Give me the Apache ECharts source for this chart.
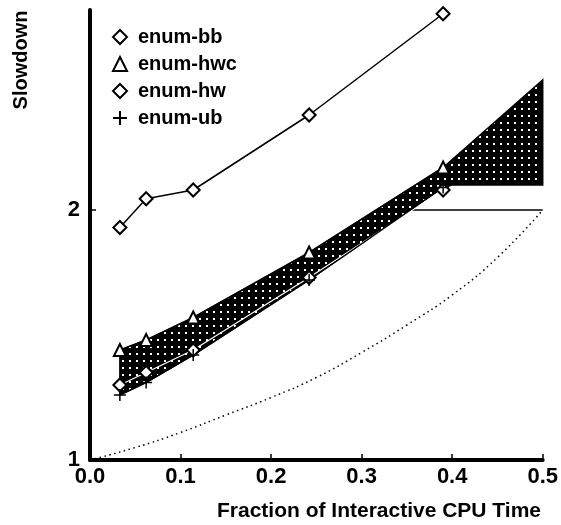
<!DOCTYPE html>
<html>
<head>
<meta charset="utf-8">
<script src="https://cdn.jsdelivr.net/npm/echarts@6/dist/echarts.min.js"></script>
<style>
  html, body { margin: 0; padding: 0; background: #fff; }
  #chart { width: 561px; height: 525px; }
</style>
</head>
<body>
<div id="chart"></div>
<script>
// Fraction of interactive CPU time at which each configuration was measured
const fractions = [0.033, 0.062, 0.114, 0.242, 0.39];

// Measured slowdown per configuration
const enumBB  = [1.93, 2.045, 2.08, 2.38, 2.785];
const enumHWC = [1.44, 1.48, 1.57, 1.83, 2.17];
const enumHW  = [1.30, 1.35, 1.44, 1.73, 2.08];
const enumUB  = [1.26, 1.31, 1.42, 1.72, 2.09];

// Projected range beyond the last measurement
const bandUpperExt = [[0.5, 2.52]];
const bandLowerExt = [[0.40, 2.10], [0.5, 2.10]];

// Slowdown limit of 2
const limitLine = [[0.35, 2.0], [0.5, 2.0]];

// Ideal slowdown curve
const idealX = [0.0, 0.05, 0.1, 0.15, 0.2, 0.25, 0.3, 0.35, 0.4, 0.45, 0.5];
const idealY = [1.0, 1.05, 1.11, 1.18, 1.25, 1.33, 1.43, 1.54, 1.66, 1.81, 2.0];

// Axis ticks
const xTickValues = [0, 0.1, 0.2, 0.3, 0.4, 0.5];
const yTickValues = [1, 2];

const pair = (xs, ys) => xs.map((x, i) => [x, ys[i]]);

// Stipple pattern for the shaded range: black with white dots
const tile = document.createElement('canvas');
tile.width = 7; tile.height = 7;
(function () {
  const c = tile.getContext('2d');
  c.fillStyle = '#000';
  c.fillRect(0, 0, 7, 7);
  c.fillStyle = '#fff';
  c.fillRect(3, 3, 2, 2);
})();

const bandUpper = pair(fractions, enumHWC).concat(bandUpperExt);
const bandLower = pair(fractions, enumUB).concat(bandLowerExt);

const plusPath = 'path://M0,5L10,5M5,0L5,10';
const fontFam = '"Liberation Sans", Arial, Helvetica, sans-serif';

const chart = echarts.init(document.getElementById('chart'), null, { renderer: 'canvas' });

chart.setOption({
  animation: false,
  backgroundColor: '#fff',
  grid: { left: 90, right: 18, top: 10, bottom: 65, containLabel: false },
  xAxis: {
    type: 'value',
    min: 0, max: 0.5, interval: 0.1,
    axisLine: { lineStyle: { color: '#000', width: 4 } },
    axisTick: { inside: true, length: 6, lineStyle: { color: '#000', width: 1.5 }, customValues: xTickValues },
    axisLabel: {
      color: '#000', fontSize: 22, fontWeight: 'bold', fontFamily: fontFam, margin: 6,
      customValues: xTickValues,
      formatter: v => v.toFixed(1)
    },
    splitLine: { show: false }
  },
  yAxis: {
    type: 'value',
    min: 1, max: 2.8, interval: 1,
    axisLine: { show: true, lineStyle: { color: '#000', width: 4 } },
    axisTick: { show: true, inside: true, length: 6, lineStyle: { color: '#000', width: 1.5 }, customValues: [2] },
    axisLabel: {
      color: '#000', fontSize: 22, fontWeight: 'bold', fontFamily: fontFam, margin: 10,
      customValues: yTickValues
    },
    splitLine: { show: false }
  },
  legend: {
    data: [
      { name: 'enum-bb', icon: 'emptyDiamond' },
      { name: 'enum-hwc', icon: 'emptyTriangle' },
      { name: 'enum-hw', icon: 'emptyDiamond' },
      { name: 'enum-ub', icon: plusPath }
    ],
    orient: 'vertical',
    left: 107, top: 22,
    itemWidth: 14, itemHeight: 14, itemGap: 7,
    selectedMode: false,
    textStyle: { color: '#000', fontSize: 20, fontWeight: 'bold', fontFamily: fontFam, padding: [0, 0, 0, 6] }
  },
  graphic: [
    {
      type: 'text', x: 21, y: 60, rotation: Math.PI / 2,
      style: {
        text: 'Slowdown', fill: '#000',
        font: 'bold 20px ' + fontFam,
        textAlign: 'center', textVerticalAlign: 'middle'
      }
    },
    {
      type: 'text', x: 541, y: 511,
      style: {
        text: 'Fraction of Interactive CPU Time', fill: '#000',
        font: 'bold 21px ' + fontFam,
        textAlign: 'right', textVerticalAlign: 'middle'
      }
    }
  ],
  series: [
    {
      // Shaded range between the upper and lower bounds
      type: 'custom',
      name: 'range',
      z: 1,
      silent: true,
      data: [[0, 1]],
      renderItem: function (params, api) {
        const pts = bandUpper.concat(bandLower.slice().reverse()).map(p => api.coord(p));
        return {
          type: 'polygon',
          shape: { points: pts },
          style: { fill: { image: tile, repeat: 'repeat' }, stroke: '#000', lineWidth: 1.5 }
        };
      }
    },
    {
      name: 'ideal', type: 'line', z: 2,
      data: pair(idealX, idealY), smooth: true,
      symbol: 'none',
      lineStyle: { color: '#000', width: 1.5, type: [1.5, 3.5] }
    },
    {
      name: 'limit', type: 'line', z: 2,
      data: limitLine, symbol: 'none',
      lineStyle: { color: '#000', width: 1.5 }
    },
    {
      name: 'enum-bb', type: 'line', z: 4,
      data: pair(fractions, enumBB),
      symbol: 'emptyDiamond', symbolSize: 13,
      lineStyle: { color: '#000', width: 1.5 },
      itemStyle: { color: '#000', borderColor: '#000', borderWidth: 1.3 }
    },
    {
      name: 'enum-hwc', type: 'line', z: 4,
      data: pair(fractions, enumHWC),
      symbol: 'emptyTriangle', symbolSize: 12,
      lineStyle: { color: '#000', width: 1.2 },
      itemStyle: { color: '#000', borderColor: '#000', borderWidth: 1.3 }
    },
    {
      name: 'enum-hw', type: 'line', z: 4,
      data: pair(fractions, enumHW),
      symbol: 'emptyDiamond', symbolSize: 13,
      lineStyle: { color: '#fff', width: 1.2 },
      itemStyle: { color: '#000', borderColor: '#000', borderWidth: 1.3 }
    },
    {
      name: 'enum-ub', type: 'line', z: 4,
      data: pair(fractions, enumUB),
      symbol: plusPath, symbolSize: 12,
      lineStyle: { color: '#000', width: 1.2 },
      itemStyle: { color: '#000', borderColor: '#000', borderWidth: 1.5 }
    }
  ]
});
</script>
</body>
</html>
